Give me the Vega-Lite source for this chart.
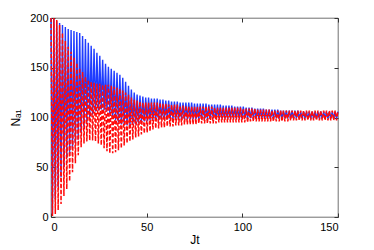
{
"$schema": "https://vega.github.io/schema/vega-lite/v6.json",
"width": 287, "height": 199,
"autosize": {"type": "none"},
"padding": {"left": 51, "top": 18, "right": 36, "bottom": 33},
"background": "white",
"config": {
  "view": {"stroke": "#333", "strokeWidth": 0.7},
  "axis": {"grid": false, "domain": false, "tickColor": "#333", "tickSize": -4, "labelFont": "Liberation Sans", "labelFontSize": 11, "labelColor": "#000", "titleFont": "Liberation Sans", "titleFontSize": 12, "titleFontWeight": "normal", "titleColor": "#000"}
},
"data": {"values": [
{"t":0,"b":200,"r":200},{"t":0.75,"b":3,"r":1},{"t":1.5,"b":199,"r":200},{"t":2.25,"b":18,"r":3},{"t":3,"b":197,"r":198},{"t":3.75,"b":30,"r":7},{"t":4.5,"b":195,"r":193},{"t":5.25,"b":40,"r":13},{"t":6,"b":193,"r":185},{"t":6.75,"b":50,"r":21},
{"t":7.5,"b":191,"r":177},{"t":8.25,"b":59,"r":28},{"t":9,"b":189,"r":171},{"t":9.75,"b":64,"r":36},{"t":10.5,"b":188,"r":166},{"t":11.25,"b":69,"r":45},{"t":12,"b":187,"r":160},{"t":12.75,"b":74,"r":54},{"t":13.5,"b":186,"r":155},{"t":14.25,"b":78,"r":62},
{"t":15,"b":185,"r":150},{"t":15.75,"b":85,"r":70},{"t":16.5,"b":182,"r":146},{"t":17.25,"b":90,"r":74},{"t":18,"b":179,"r":141},{"t":18.75,"b":95,"r":76},{"t":19.5,"b":175,"r":138},{"t":20.25,"b":100,"r":77},{"t":21,"b":172,"r":136},{"t":21.75,"b":103,"r":77},
{"t":22.5,"b":169,"r":135},{"t":23.25,"b":106,"r":76},{"t":24,"b":165,"r":134},{"t":24.75,"b":107,"r":74},{"t":25.5,"b":162,"r":134},{"t":26.25,"b":108,"r":72},{"t":27,"b":158,"r":133},{"t":27.75,"b":107,"r":69},{"t":28.5,"b":154,"r":133},{"t":29.25,"b":106,"r":66},
{"t":30,"b":151,"r":133},{"t":30.75,"b":103,"r":64},{"t":31.5,"b":149,"r":132},{"t":32.25,"b":100,"r":64},{"t":33,"b":147,"r":131},{"t":33.75,"b":97,"r":65},{"t":34.5,"b":145,"r":130},{"t":35.25,"b":95,"r":67},{"t":36,"b":143,"r":129},{"t":36.75,"b":93,"r":69},
{"t":37.5,"b":140,"r":127},{"t":38.25,"b":92,"r":72},{"t":39,"b":136,"r":125},{"t":39.75,"b":92,"r":74},{"t":40.5,"b":132,"r":123},{"t":41.25,"b":92,"r":76},{"t":42,"b":128,"r":120},{"t":42.75,"b":93,"r":78},{"t":43.5,"b":125,"r":118},{"t":44.25,"b":93,"r":80},
{"t":45,"b":123,"r":117},{"t":45.75,"b":94,"r":81},{"t":46.5,"b":122,"r":116},{"t":47.25,"b":95,"r":83},{"t":48,"b":121,"r":115},{"t":48.75,"b":96,"r":84},{"t":49.5,"b":120,"r":115},{"t":50.25,"b":96,"r":85},{"t":51,"b":120,"r":115},{"t":51.75,"b":97,"r":86},
{"t":52.5,"b":119,"r":115},{"t":53.25,"b":97,"r":88},{"t":54,"b":119,"r":115},{"t":54.75,"b":97,"r":89},{"t":55.5,"b":119,"r":115},{"t":56.25,"b":97,"r":89},{"t":57,"b":118,"r":115},{"t":57.75,"b":98,"r":90},{"t":58.5,"b":118,"r":114},{"t":59.25,"b":98,"r":90},
{"t":60,"b":117,"r":114},{"t":60.75,"b":98,"r":91},{"t":61.5,"b":117,"r":113},{"t":62.25,"b":98,"r":91},{"t":63,"b":116,"r":113},{"t":63.75,"b":98,"r":91},{"t":64.5,"b":116,"r":113},{"t":65.25,"b":98,"r":92},{"t":66,"b":116,"r":113},{"t":66.75,"b":98,"r":92},
{"t":67.5,"b":115,"r":112},{"t":68.25,"b":98,"r":92},{"t":69,"b":115,"r":112},{"t":69.75,"b":98,"r":93},{"t":70.5,"b":115,"r":112},{"t":71.25,"b":98,"r":93},{"t":72,"b":115,"r":111},{"t":72.75,"b":98,"r":93},{"t":73.5,"b":115,"r":111},{"t":74.25,"b":98,"r":93},
{"t":75,"b":114,"r":111},{"t":75.75,"b":98,"r":93},{"t":76.5,"b":114,"r":111},{"t":77.25,"b":98,"r":94},{"t":78,"b":114,"r":111},{"t":78.75,"b":98,"r":94},{"t":79.5,"b":114,"r":111},{"t":80.25,"b":98,"r":94},{"t":81,"b":114,"r":111},{"t":81.75,"b":98,"r":94},
{"t":82.5,"b":113,"r":111},{"t":83.25,"b":98,"r":94},{"t":84,"b":113,"r":111},{"t":84.75,"b":99,"r":94},{"t":85.5,"b":113,"r":110},{"t":86.25,"b":99,"r":94},{"t":87,"b":113,"r":110},{"t":87.75,"b":99,"r":95},{"t":88.5,"b":113,"r":110},{"t":89.25,"b":99,"r":95},
{"t":90,"b":112,"r":110},{"t":90.75,"b":99,"r":95},{"t":91.5,"b":112,"r":110},{"t":92.25,"b":99,"r":95},{"t":93,"b":112,"r":110},{"t":93.75,"b":99,"r":95},{"t":94.5,"b":112,"r":110},{"t":95.25,"b":99,"r":95},{"t":96,"b":111,"r":110},{"t":96.75,"b":99,"r":95},
{"t":97.5,"b":111,"r":110},{"t":98.25,"b":99,"r":95},{"t":99,"b":111,"r":110},{"t":99.75,"b":99,"r":95},{"t":100.5,"b":111,"r":109},{"t":101.25,"b":99,"r":95},{"t":102,"b":110,"r":109},{"t":102.75,"b":99,"r":95},{"t":103.5,"b":110,"r":109},{"t":104.25,"b":99,"r":96},
{"t":105,"b":110,"r":109},{"t":105.75,"b":99,"r":96},{"t":106.5,"b":109,"r":109},{"t":107.25,"b":99,"r":96},{"t":108,"b":109,"r":108},{"t":108.75,"b":99,"r":96},{"t":109.5,"b":109,"r":108},{"t":110.25,"b":99,"r":96},{"t":111,"b":109,"r":108},{"t":111.75,"b":99,"r":96},
{"t":112.5,"b":108,"r":108},{"t":113.25,"b":99,"r":96},{"t":114,"b":108,"r":108},{"t":114.75,"b":99,"r":96},{"t":115.5,"b":108,"r":107},{"t":116.25,"b":99,"r":96},{"t":117,"b":108,"r":107},{"t":117.75,"b":99,"r":96},{"t":118.5,"b":108,"r":107},{"t":119.25,"b":99,"r":96},
{"t":120,"b":107,"r":107},{"t":120.75,"b":99,"r":96},{"t":121.5,"b":107,"r":107},{"t":122.25,"b":99,"r":96},{"t":123,"b":107,"r":107},{"t":123.75,"b":99,"r":96},{"t":124.5,"b":107,"r":107},{"t":125.25,"b":99,"r":97},{"t":126,"b":107,"r":107},{"t":126.75,"b":99,"r":97},
{"t":127.5,"b":107,"r":107},{"t":128.25,"b":99,"r":97},{"t":129,"b":107,"r":107},{"t":129.75,"b":99,"r":97},{"t":130.5,"b":106,"r":107},{"t":131.25,"b":99,"r":97},{"t":132,"b":106,"r":107},{"t":132.75,"b":99,"r":97},{"t":133.5,"b":106,"r":107},{"t":134.25,"b":99,"r":97},
{"t":135,"b":106,"r":107},{"t":135.75,"b":99,"r":97},{"t":136.5,"b":106,"r":107},{"t":137.25,"b":99,"r":97},{"t":138,"b":106,"r":107},{"t":138.75,"b":99,"r":97},{"t":139.5,"b":106,"r":107},{"t":140.25,"b":99,"r":97},{"t":141,"b":106,"r":107},{"t":141.75,"b":99,"r":97},
{"t":142.5,"b":106,"r":107},{"t":143.25,"b":99,"r":97},{"t":144,"b":106,"r":107},{"t":144.75,"b":99,"r":97},{"t":145.5,"b":106,"r":107},{"t":146.25,"b":99,"r":97},{"t":147,"b":106,"r":107},{"t":147.75,"b":99,"r":97},{"t":148.5,"b":106,"r":107},{"t":149.25,"b":99,"r":97},
{"t":150,"b":106,"r":107}
]},
"layer": [
  {"mark": {"type": "line", "color": "#1f3cff", "strokeWidth": 1.4},
   "encoding": {
     "x": {"field": "t", "type": "quantitative", "scale": {"domain": [0, 150], "nice": false}, "axis": {"orient": "bottom", "values": [0, 50, 100, 150], "title": "Jt", "labelPadding": 8, "titlePadding": 2}},
     "y": {"field": "b", "type": "quantitative", "scale": {"domain": [0, 200], "nice": false}, "axis": {"orient": "left", "values": [0, 50, 100, 150, 200], "title": "Nₐ₁", "labelPadding": 7, "titlePadding": 7}}
   }},
  {"mark": {"type": "line", "color": "#ff0a0a", "strokeWidth": 1.5, "strokeDash": [4, 2]},
   "encoding": {
     "x": {"field": "t", "type": "quantitative", "axis": {"orient": "top", "values": [0, 50, 100, 150], "labels": false, "title": null}},
     "y": {"field": "r", "type": "quantitative", "axis": {"orient": "right", "values": [0, 50, 100, 150, 200], "labels": false, "title": null}}
   }}
],
"resolve": {"axis": {"x": "independent", "y": "independent"}}
}
